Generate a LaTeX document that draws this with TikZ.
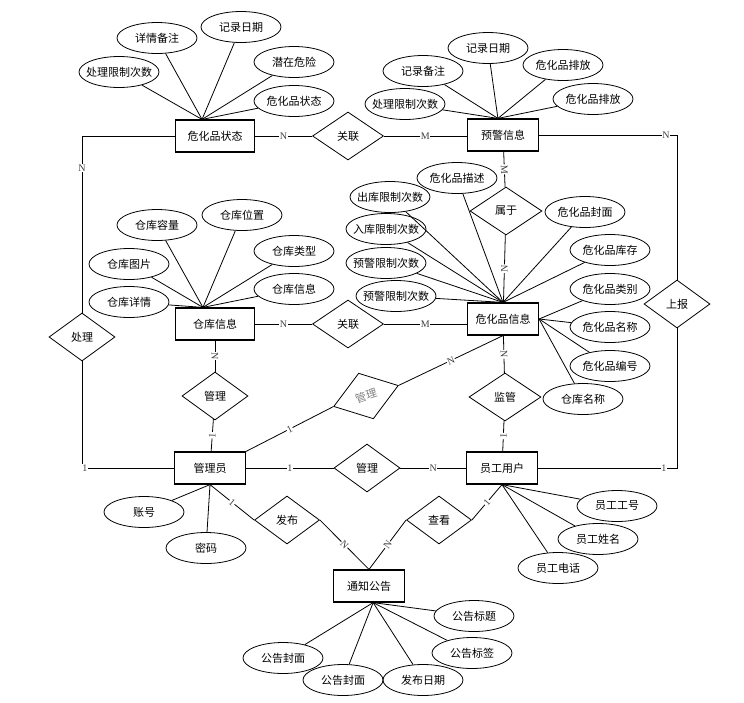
\documentclass[tikz,border=0pt]{standalone}
\usepackage{fontspec}
\setmainfont{Liberation Serif}
\newfontfamily\cjk{Noto Sans CJK SC}
\usetikzlibrary{shapes.geometric}
\newcommand{\zw}[1]{\makebox[0pt]{#1}}
\begin{document}
\begin{tikzpicture}[x=1pt, y=-1pt, line width=.8pt, font=\cjk\fontsize{11}{13}\selectfont,
  ent/.style={draw, line width=1.2pt, minimum width=71pt, minimum height=32pt, inner sep=0pt},
  rel/.style={draw, diamond, minimum width=68pt, minimum height=48pt, inner sep=0pt},
  attr/.style={draw, ellipse, minimum width=80pt, minimum height=31pt, inner sep=0pt},
  card/.style={font=\rmfamily\fontsize{10}{10}\selectfont, fill=white, inner sep=.6pt, text=black!75}]
\useasboundingbox (0,0) rectangle (744,702);
\node[ent, minimum width=79pt] (ent0) at (215,136){危化品状态};
\node[ent] (ent1) at (503,135){预警信息};
\node[ent, minimum width=79pt] (ent2) at (215,324){仓库信息};
\node[ent] (ent3) at (503,319){危化品信息};
\node[ent] (ent4) at (210,468){管理员};
\node[ent] (ent5) at (502,468){员工用户};
\node[ent] (ent6) at (369,586){通知公告};
\node[rel, minimum width=71pt] (rel0) at (348,136){关联};
\node[rel, minimum width=71pt] (rel1) at (348,324){关联};
\node[rel, minimum width=72pt] (rel2) at (506,211){属于};
\node[rel, minimum width=66pt] (rel3) at (215,396){管理};
\node[rel, rotate=18, text=black!50] (rel4) at (366,396){管理};
\node[rel, minimum width=72pt] (rel5) at (505,397){监管};
\node[rel, minimum width=66pt] (rel6) at (367,468){管理};
\node[rel, minimum width=65pt] (rel7) at (287,520){发布};
\node[rel, minimum width=65pt] (rel8) at (439,520){查看};
\node[rel, minimum width=66pt] (rel9) at (82,337){处理};
\node[rel, minimum width=66pt] (rel10) at (677,304){上报};
\draw (ent0) -- node[card]{N} (rel0);
\draw (rel0) -- node[card]{M} (rel0 -| ent1.west);
\draw (ent2) -- node[card]{N} (rel1);
\draw (rel1) -- node[card]{M} (rel1 -| ent3.west);
\draw (ent1) -- node[card, sloped]{M} (rel2);
\draw (rel2) -- node[card, sloped]{N} (ent3);
\draw (ent2) -- node[card, sloped]{N} (rel3);
\draw (rel3) -- node[card, sloped]{1} (ent4);
\draw (ent4.north east) -- node[card, sloped]{1} (rel4.west);
\draw (rel4.east) -- node[card, sloped]{N} (ent3.south);
\draw (ent3) -- node[card, sloped]{N} (rel5);
\draw (rel5) -- node[card, sloped]{1} (ent5);
\draw (ent4) -- node[card]{1} (rel6);
\draw (rel6) -- node[card]{N} (ent5);
\draw (ent4.south) -- node[card, sloped]{1} (rel7.west);
\draw (rel7.east) -- node[card, sloped]{N} (ent6.north);
\draw (ent6.north) -- node[card, sloped]{N} (rel8.west);
\draw (rel8.east) -- node[card, sloped]{1} (ent5.south);
\draw (ent0.west) -| node[card, pos=.59]{N} (rel9.north);
\draw (rel9.south) |- node[card, pos=.515]{1} (ent4.west);
\draw (ent1.east) -| node[card, pos=.46]{N} (rel10.north);
\draw (rel10.south) |- node[card, pos=.547]{1} (ent5.east);
\node[attr] (att0) at (119,72){\zw{处理限制次数}};
\node[attr] (att1) at (157,38){\zw{详情备注}};
\node[attr] (att2) at (241,27){\zw{记录日期}};
\node[attr] (att3) at (294,62){\zw{潜在危险}};
\node[attr] (att4) at (294,101){\zw{危化品状态}};
\foreach \i in {0,...,4} \draw (att\i) -- (ent0.128);
\node[attr] (att5) at (405,104){\zw{处理限制次数}};
\node[attr] (att6) at (423,71){\zw{记录备注}};
\node[attr] (att7) at (488,48){\zw{记录日期}};
\node[attr] (att8) at (563,65){\zw{危化品排放}};
\node[attr] (att9) at (593,99){\zw{危化品排放}};
\foreach \i in {5,...,9} \draw (att\i) -- (ent1.107);
\node[attr] (att10) at (157,225){\zw{仓库容量}};
\node[attr] (att11) at (242,215){\zw{仓库位置}};
\node[attr] (att12) at (129,264){\zw{仓库图片}};
\node[attr] (att13) at (294,251){\zw{仓库类型}};
\node[attr] (att14) at (129,302){\zw{仓库详情}};
\node[attr] (att15) at (294,289){\zw{仓库信息}};
\foreach \i in {10,...,15} \draw (att\i) -- (ent2.126);
\node[attr] (att16) at (457,178){\zw{危化品描述}};
\node[attr] (att17) at (390,197){\zw{出库限制次数}};
\node[attr] (att18) at (386,229){\zw{入库限制次数}};
\node[attr] (att19) at (386,263){\zw{预警限制次数}};
\node[attr] (att20) at (396,296){\zw{预警限制次数}};
\node[attr] (att21) at (585,212){\zw{危化品封面}};
\node[attr] (att22) at (610,250){\zw{危化品库存}};
\foreach \i in {16,...,22} \draw (att\i) -- (ent3.north);
\node[attr] (att23) at (610,289){\zw{危化品类别}};
\node[attr] (att24) at (610,327){\zw{危化品名称}};
\node[attr] (att25) at (610,366){\zw{危化品编号}};
\node[attr] (att26) at (583,399){\zw{仓库名称}};
\foreach \i in {23,...,26} \draw (att\i) -- (ent3.east);
\node[attr] (att27) at (144,512){\zw{账号}};
\node[attr] (att28) at (206,548){\zw{密码}};
\foreach \i in {27,28} \draw (att\i) -- (ent4.south);
\node[attr] (att29) at (617,506){\zw{员工工号}};
\node[attr] (att30) at (598,539){\zw{员工姓名}};
\node[attr] (att31) at (558,568){\zw{员工电话}};
\foreach \i in {29,...,31} \draw (att\i) -- (ent5.south);
\node[attr] (att32) at (474,616){\zw{公告标题}};
\node[attr] (att33) at (472,653){\zw{公告标签}};
\node[attr] (att34) at (423,680){\zw{发布日期}};
\node[attr] (att35) at (343,680){\zw{公告封面}};
\node[attr] (att36) at (283,658){\zw{公告封面}};
\foreach \i in {32,...,36} \draw (att\i) -- (ent6.-76);
\end{tikzpicture}
\end{document}
